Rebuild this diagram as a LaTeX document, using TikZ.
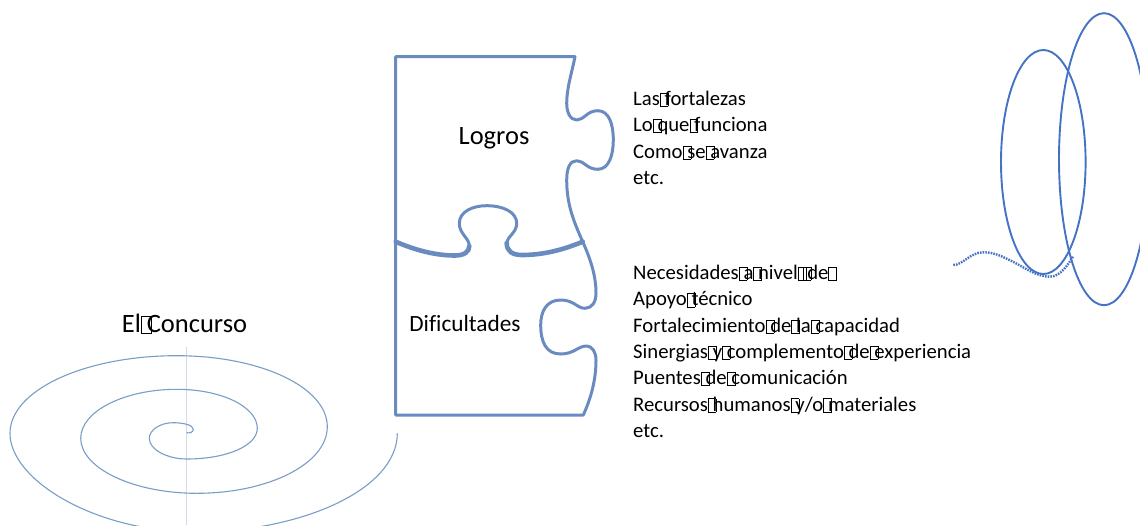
\documentclass[tikz,border=0pt]{standalone}
\usepackage{fontspec}
\setmainfont[Ligatures=NoCommon]{Carlito}
\newcommand{\tf}{\leavevmode\rlap{\raisebox{-.03em}{\setlength\fboxrule{.45pt}\setlength\fboxsep{0pt}\fbox{\rule{0pt}{.62em}\hspace{.36em}}}}\ }
\tikzset{
  piece/.style={draw=puzzleblue,line width=3pt,line join=round},
  seam/.style={draw=puzzleblue,line width=4.6pt,line cap=round},
  ring/.style={draw=ringblue,line width=1.9pt},
  spiralline/.style={draw=spiralblue,line width=1.1pt},
  axisline/.style={draw=spiralblue!35,line width=.7pt},
  wave/.style={draw=ringblue,line width=2.4pt,dash pattern=on 1.6pt off 1.1pt},
  body/.style={font=\fontsize{20.7}{26.3}\selectfont,align=left,anchor=north west,inner sep=0pt,text=black},
  head/.style={font=\fontsize{26.5}{30}\selectfont,inner sep=0pt,text=black},
  subhead/.style={font=\fontsize{23.3}{27}\selectfont,inner sep=0pt,text=black}
}
\definecolor{puzzleblue}{HTML}{6A8BC0}
\definecolor{ringblue}{HTML}{4472C4}
\definecolor{spiralblue}{HTML}{7A9CC6}
\begin{document}
\begin{tikzpicture}[x=1pt,y=-1pt]
\useasboundingbox (0,0) rectangle (1140,525);
\clip (0,0) rectangle (1140,525);
% spiral
\draw[axisline] (186,347) -- (186,525);
\draw[spiralline] (186.7,432.7) .. controls (190,433.5) and (193.3,432) .. (193.3,429.3)
 .. controls (193.3,425) and (183,422.7) .. (173.3,422.7)
 .. controls (160,422.7) and (149.3,430) .. (149.3,438.3)
 .. controls (149.3,450) and (168,459) .. (186.7,459)
 .. controls (226,459) and (257.3,446) .. (257.3,428.3)
 .. controls (257.3,407) and (222,389.3) .. (176.7,389.3)
 .. controls (125,389.3) and (80.7,411) .. (80.7,438.3)
 .. controls (80.7,468) and (133,493.3) .. (196.7,493.3)
 .. controls (268,493.3) and (327.3,464) .. (327.3,426.7)
 .. controls (327.3,387) and (260,355.7) .. (176.7,355.7)
 .. controls (85,355.7) and (10,390) .. (10,433.3)
 .. controls (10,480) and (95,532) .. (196,532)
 .. controls (300,532) and (397.3,490) .. (397.3,433.3);
% puzzle, upper piece
\draw[piece] (582.7,241.7) .. controls (574,222) and (566.7,205) .. (566.7,180)
 .. controls (566.7,168) and (570,160.7) .. (576.7,160.7)
 .. controls (584,160.7) and (587,169.3) .. (597.7,169.3)
 .. controls (609,169.3) and (613.3,155) .. (613.3,140)
 .. controls (613.3,124) and (609,110.7) .. (597.7,110.7)
 .. controls (587,110.7) and (584,120) .. (576.7,120)
 .. controls (570,120) and (566.7,112) .. (566.7,103.3)
 .. controls (566.7,88) and (572,72) .. (575,56.7)
 -- (395.7,56.7) -- (395.7,241.7);
% puzzle, lower piece
\draw[piece] (582.7,241.7) .. controls (590,258) and (596,275) .. (596,293.3)
 .. controls (596,302) and (592,308.3) .. (585,308.3)
 .. controls (577,308.3) and (574,300) .. (560.7,300)
 .. controls (546,300) and (540.7,312) .. (540.7,325)
 .. controls (540.7,342) and (546,354) .. (560.7,354)
 .. controls (574,354) and (578,346) .. (586.7,346)
 .. controls (592,346) and (596,352) .. (596,360)
 .. controls (596,380) and (591,398) .. (583.3,415)
 -- (395.7,415) -- (395.7,241.7);
% shared edge
\draw[seam] (395.7,241.7) .. controls (415,250) and (435,255.5) .. (455,255.5)
 .. controls (464,255.5) and (469.3,252) .. (469.3,246);
\draw[piece] (469.3,246) .. controls (469.3,238) and (459.3,234) .. (459.3,223.3)
 .. controls (459.3,212) and (472,205.7) .. (486.7,205.7)
 .. controls (503,205.7) and (516.7,212) .. (516.7,223.3)
 .. controls (516.7,233) and (506.7,237) .. (506.7,243);
\draw[seam] (506.7,243) .. controls (506.7,251) and (512,255) .. (522,255)
 .. controls (545,255) and (565,249) .. (582.7,241.7);
% rings
\draw[ring] (1043.3,162) ellipse [x radius=42.3,y radius=112];
\draw[ring] (1104,159.2) ellipse [x radius=45,y radius=146];
\draw[wave] (953.3,265) .. controls (963,265) and (970,252.3) .. (983.3,252.3)
 .. controls (995,252.3) and (1003,257) .. (1013,261.7)
 .. controls (1025,268) and (1037,276.7) .. (1050,276.7)
 .. controls (1060,276.7) and (1068,265) .. (1073.3,256);
% texts
\node[head] (logros) at (494,138.5) {Logros};
\node[subhead] (dificultades) at (465,323.5) {Dificultades};
\node[head] (concurso) at (184.5,324) {El\tf Concurso};
\node[body] (fortalezas) at (633,91) {Las\tf fortalezas\\Lo\tf que\tf funciona\\Como\tf se\tf avanza\\etc.};
\node[body] (necesidades) at (633,265) {Necesidades\tf a\tf nivel\tf\tf de\tf\\Apoyo\tf técnico\\Fortalecimiento\tf de\tf la\tf capacidad\\Sinergias\tf y\tf complemento\tf de\tf experiencia\\Puentes\tf de\tf comunicación\\Recursos\tf humanos\tf y/o\tf materiales\\etc.};
\end{tikzpicture}
\end{document}
